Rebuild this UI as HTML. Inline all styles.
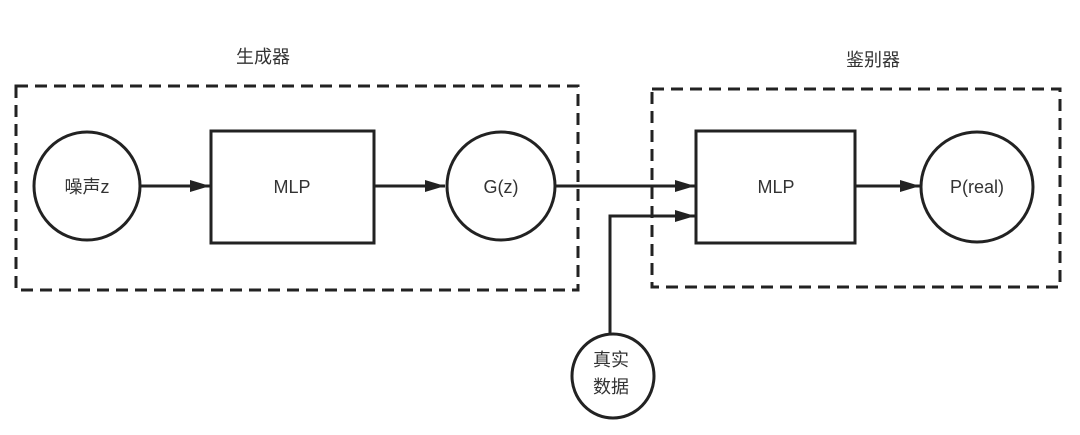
<!DOCTYPE html>
<html><head><meta charset="utf-8"><style>
body{margin:0;background:#fff;}
svg text{font-family:"Liberation Sans","Noto Sans CJK SC",sans-serif;fill:#333;}
</style></head><body>
<svg width="1080" height="430" viewBox="0 0 1080 430" xmlns="http://www.w3.org/2000/svg">
<defs>
<marker id="b" viewBox="0 0 20 12" markerWidth="20" markerHeight="12" refX="20" refY="6" orient="auto" markerUnits="userSpaceOnUse"><path d="M0,0 L20,6 L0,12z" fill="#222"/></marker></defs>
<g fill="none" stroke="#222" stroke-width="3">
<rect x="16" y="86" width="562" height="204" stroke-dasharray="12,7"/>
<rect x="652" y="89" width="408" height="198" stroke-dasharray="12,7"/>
<ellipse cx="87" cy="186" rx="53" ry="54"/>
<rect x="211" y="131" width="163" height="112"/>
<ellipse cx="501" cy="186" rx="54" ry="54"/>
<rect x="696" y="131" width="159" height="112"/>
<ellipse cx="977" cy="187" rx="56" ry="55"/>
<ellipse cx="613" cy="376" rx="41" ry="42"/>
<line x1="140" y1="186" x2="210" y2="186" marker-end="url(#b)"/>
<line x1="374" y1="186" x2="445" y2="186" marker-end="url(#b)"/>
<line x1="555" y1="186" x2="695" y2="186" marker-end="url(#b)"/>
<line x1="855" y1="186" x2="920" y2="186" marker-end="url(#b)"/>
<polyline points="610,334 610,216 695,216" marker-end="url(#b)"/>
</g>
<g font-size="18" text-anchor="middle">
<text x="263" y="63">生成器</text>
<text x="873" y="66">鉴别器</text>
<text x="87" y="193">噪声z</text>
<text x="292" y="193">MLP</text>
<text x="501" y="193">G(z)</text>
<text x="776" y="193">MLP</text>
<text x="977" y="193">P(real)</text>
<text x="611" y="366">真实</text>
<text x="611" y="393">数据</text>
</g>
</svg>
</body></html>
